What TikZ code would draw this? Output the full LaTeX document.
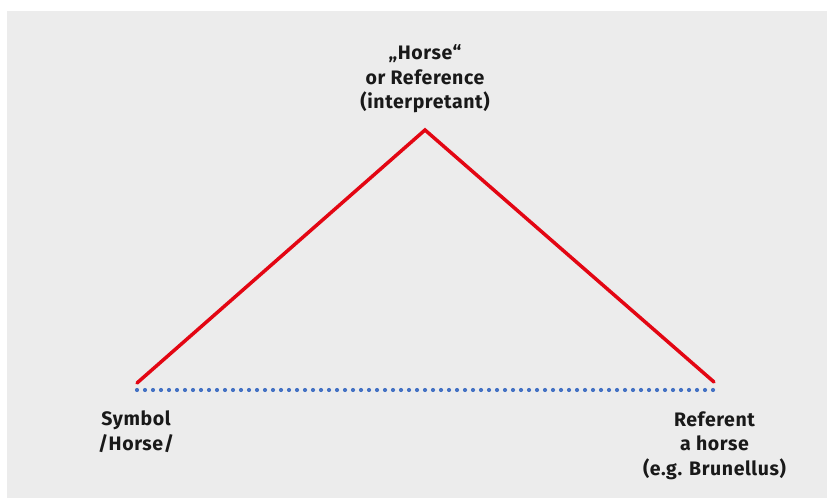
\documentclass[tikz,border=0pt]{standalone}
\usepackage{fontspec}
\setmainfont{Fira Sans}[UprightFont=* Bold, LetterSpace=3]
\definecolor{redc}{RGB}{227,6,19}
\definecolor{bluec}{RGB}{68,114,196}
\definecolor{bgc}{RGB}{236,236,236}
\begin{document}
\begin{tikzpicture}[x=1pt,y=1pt,
  lbl/.style={inner sep=0pt, align=center, font=\fontsize{19.5}{24.5}\selectfont, text=black!90},
  redline/.style={draw=redc, line width=3.5pt, line cap=round, line join=miter},
  dotline/.style={draw=bluec, line width=4.2pt, line cap=round, dash pattern=on 0pt off 8pt}]
\useasboundingbox (0,0) rectangle (827,498);
\fill[white] (0,0) rectangle (827,498);
\fill[bgc] (7,0) rectangle (827,487);
\coordinate (apex) at (425,368);
\coordinate (sym) at (137,115);
\coordinate (ref) at (714,116);
\coordinate (dl) at (137,108);
\coordinate (dr) at (714,108);
\draw[redline] (sym) -- (apex) -- (ref);
\draw[dotline] (dl) -- (dr);
\node[lbl, anchor=base] (top) at (425,389) {„Horse“\\or Reference\\(interpretant)};
\node[lbl, anchor=base] (symbol) at (136,48) {Symbol\\/Horse/};
\node[lbl, anchor=base] (referent) at (714.5,23) {Referent\\a horse\\(e.g. Brunellus)};
\end{tikzpicture}
\end{document}
